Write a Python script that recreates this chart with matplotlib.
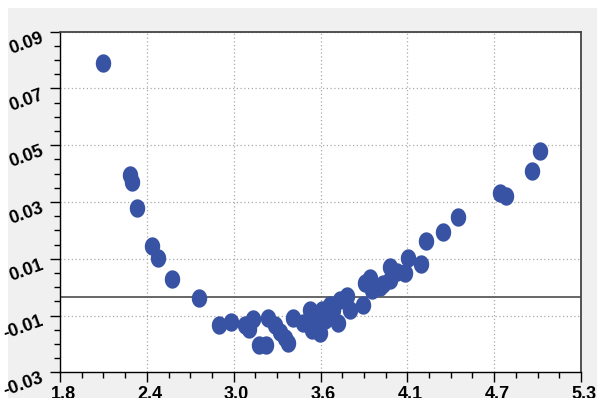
import numpy as np
import matplotlib
matplotlib.use("Agg")
import matplotlib.pyplot as plt
from matplotlib.patches import Rectangle
from matplotlib.ticker import AutoMinorLocator
from matplotlib.transforms import ScaledTranslation

# data
x_vals = [2.091, 2.270, 2.286, 2.319, 2.420, 2.460, 2.550, 2.733, 2.868, 2.946,
          3.042, 3.071, 3.098, 3.136, 3.183, 3.199, 3.244, 3.278, 3.311, 3.333,
          3.363, 3.432, 3.479, 3.490, 3.513, 3.546, 3.558, 3.580, 3.613, 3.635,
          3.669, 3.680, 3.725, 3.748, 3.837, 3.848, 3.882, 3.895, 3.949, 3.969,
          4.016, 4.061, 4.016, 4.117, 4.139, 4.224, 4.258, 4.370, 4.475, 4.755,
          4.795, 4.968, 5.024]
y_vals = [0.0788, 0.0395, 0.0369, 0.0280, 0.0146, 0.0102, 0.0029, -0.0038, -0.0133, -0.0122,
          -0.0133, -0.0148, -0.0113, -0.0204, -0.0204, -0.0110, -0.0133, -0.0157, -0.0180, -0.0198,
          -0.0110, -0.0126, -0.0080, -0.0151, -0.0110, -0.0162, -0.0080, -0.0116, -0.0063, -0.0080,
          -0.0127, -0.0045, -0.0033, -0.0080, -0.0063, 0.0014, 0.0031, -0.0011, 0.0002, 0.0010,
          0.0025, 0.0054, 0.0072, 0.0049, 0.0102, 0.0082, 0.0164, 0.0195, 0.0248, 0.0330,
          0.0321, 0.0409, 0.0480]
ref_level = -0.0034

x_ticklabels = ['1.8', '2.4', '3.0', '3.6', '4.1', '4.7', '5.3']
y_ticklabels = ['-0.03', '-0.01', '0.01', '0.03', '0.05', '0.07', '0.09']

fig = plt.figure(figsize=(5.97, 3.98), dpi=100, facecolor='white')
fig.patches.append(Rectangle((8/597, 0), 1, 1 - 8/398, transform=fig.transFigure,
                             facecolor='#eff0ef', edgecolor='none', zorder=-10))
ax = fig.add_axes([60/597, 1 - 372.3/398, 521/597, (372.3 - 31.5)/398])
ax.set_facecolor('white')

# slightly tall ellipse marker
t = np.linspace(0, 2*np.pi, 60)
ell = np.column_stack([0.84*np.cos(t), np.sin(t)])
ax.scatter(x_vals, y_vals, marker=ell, s=175, color='#3953a4', linewidths=0, zorder=3)
ax.axhline(ref_level, color='#666666', lw=1.4, zorder=2)

lab_font = dict(fontsize=13, fontweight='bold', family='Liberation Sans')
ax.set_xlim(1.8, 5.3)
ax.set_ylim(-0.03, 0.09)
ax.set_xticks(np.linspace(1.8, 5.3, 7))
ax.set_yticks(np.linspace(-0.03, 0.09, 7))
ax.set_xticklabels(x_ticklabels, **lab_font)
ax.set_yticklabels(y_ticklabels, rotation=20, ha='right', va='center', **lab_font)
ax.xaxis.set_minor_locator(AutoMinorLocator(4))
ax.yaxis.set_minor_locator(AutoMinorLocator(4))
ax.tick_params(which='major', length=7, width=1, direction='out', pad=3)
ax.tick_params(which='minor', length=4, width=1, direction='out')
ax.tick_params(axis='x', pad=3)
for lab in ax.get_yticklabels():
    lab.set_transform(lab.get_transform() + ScaledTranslation(0, -12/100, fig.dpi_scale_trans))
for lab in ax.get_xticklabels():
    lab.set_transform(lab.get_transform() + ScaledTranslation(3/100, 0, fig.dpi_scale_trans))

ax.grid(True, which='major', linestyle=(0, (1, 2)), color='#aaaaaa', lw=0.9)
for side in ['left', 'bottom']:
    ax.spines[side].set_color('black')
    ax.spines[side].set_linewidth(1)
for side in ['top', 'right']:
    ax.spines[side].set_color('#444444')
    ax.spines[side].set_linewidth(1.3)

fig.savefig('out.png', dpi=100, facecolor=fig.get_facecolor())
